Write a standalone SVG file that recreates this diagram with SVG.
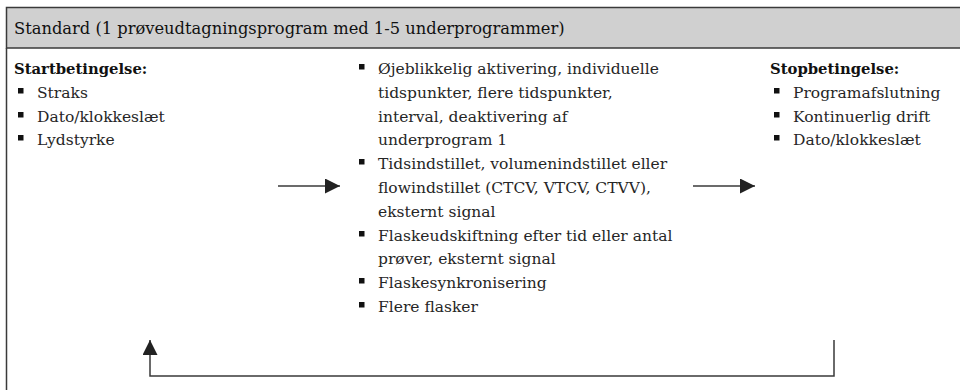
<svg xmlns="http://www.w3.org/2000/svg" width="960" height="390" viewBox="0 0 960 390">
  <style>
    .frame { fill: none; stroke: #3a3a3a; stroke-width: 1.5; }
    .head { fill: #d0d0d0; stroke: #3a3a3a; stroke-width: 1.5; }
    .t { font-family: "DejaVu Serif", "Liberation Serif", serif; font-size: 15.5px; fill: #262626; }
    .h { font-family: "DejaVu Serif", "Liberation Serif", serif; font-size: 16.3px; fill: #111; }
    .b { font-weight: bold; font-size: 14.8px; fill: #111; }
    .bul { fill: #111; }
    .conn { fill: none; stroke: #3a3a3a; stroke-width: 1.5; }
  </style>
  <defs>
    <marker id="arrowBig" viewBox="0 0 15 15" refX="15" refY="7.5" markerWidth="15" markerHeight="15" markerUnits="userSpaceOnUse" orient="auto">
      <path d="M0,0 L15,7.5 L0,15 Z" fill="#222"/>
    </marker>
    <rect id="sq" width="5.5" height="5.5"/>
  </defs>

  <rect width="960" height="390" fill="#fff"/>

  <!-- table frame: grey title band, open on the right and bottom -->
  <g id="table">
    <rect class="head" x="6.5" y="7.5" width="960" height="40.5"/>
    <line class="frame" x1="6.5" y1="48" x2="6.5" y2="392"/>
  </g>

  <g id="title">
    <text class="h" x="14" y="34">Standard (1 prøveudtagningsprogram med 1-5 underprogrammer)</text>
  </g>

  <g id="start">
    <text class="t b" x="14" y="74">Startbetingelse:</text>
    <use href="#sq" class="bul" x="18" y="88"/>
    <text class="t" x="37" y="98">Straks</text>
    <use href="#sq" class="bul" x="18" y="112"/>
    <text class="t" x="37" y="122">Dato/klokkeslæt</text>
    <use href="#sq" class="bul" x="18" y="135"/>
    <text class="t" x="37" y="145">Lydstyrke</text>
  </g>

  <g id="program">
    <use href="#sq" class="bul" x="359" y="64"/>
    <text class="t" x="378" y="74">Øjeblikkelig aktivering, individuelle</text>
    <text class="t" x="378" y="98">tidspunkter, flere tidspunkter,</text>
    <text class="t" x="378" y="122">interval, deaktivering af</text>
    <text class="t" x="378" y="145">underprogram 1</text>
    <use href="#sq" class="bul" x="359" y="159"/>
    <text class="t" x="378" y="169">Tidsindstillet, volumenindstillet eller</text>
    <text class="t" x="378" y="193">flowindstillet (CTCV, VTCV, CTVV),</text>
    <text class="t" x="378" y="217">eksternt signal</text>
    <use href="#sq" class="bul" x="359" y="231"/>
    <text class="t" x="378" y="241">Flaskeudskiftning efter tid eller antal</text>
    <text class="t" x="378" y="264">prøver, eksternt signal</text>
    <use href="#sq" class="bul" x="359" y="278"/>
    <text class="t" x="378" y="288">Flaskesynkronisering</text>
    <use href="#sq" class="bul" x="359" y="302"/>
    <text class="t" x="378" y="312">Flere flasker</text>
  </g>

  <g id="stop">
    <text class="t b" x="770" y="74">Stopbetingelse:</text>
    <use href="#sq" class="bul" x="774" y="88"/>
    <text class="t" x="793" y="98">Programafslutning</text>
    <use href="#sq" class="bul" x="774" y="112"/>
    <text class="t" x="793" y="122">Kontinuerlig drift</text>
    <use href="#sq" class="bul" x="774" y="135"/>
    <text class="t" x="793" y="145">Dato/klokkeslæt</text>
  </g>

  <g id="connectors">
    <line class="conn" x1="278" y1="186" x2="340" y2="186" marker-end="url(#arrowBig)"/>
    <line class="conn" x1="693" y1="186" x2="755" y2="186" marker-end="url(#arrowBig)"/>
    <polyline class="conn" points="834,340 834,376 150,376 150,340" marker-end="url(#arrowBig)"/>
  </g>
</svg>
